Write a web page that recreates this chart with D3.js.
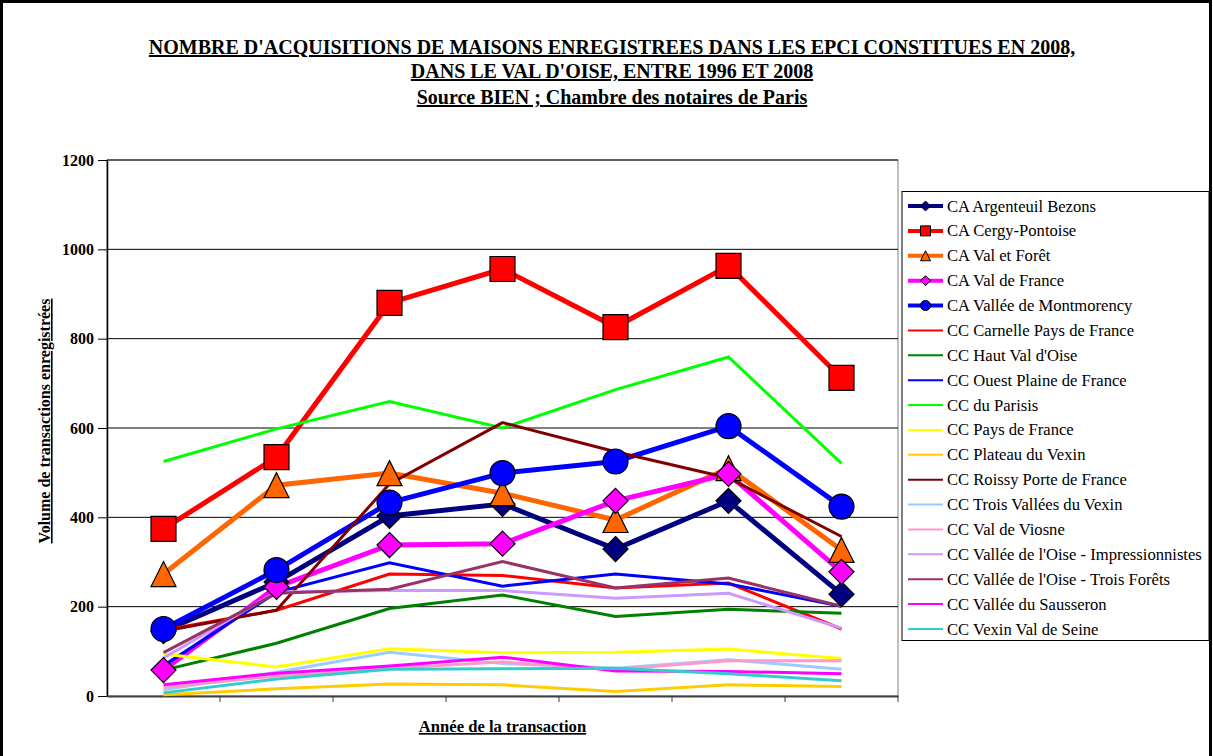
<!DOCTYPE html>
<html>
<head>
<meta charset="utf-8">
<script src="https://cdn.jsdelivr.net/npm/d3@7"></script>
<style>
  body { margin: 0; background: #fff; }
  svg { display: block; }
  text { font-family: "Liberation Serif", "Times New Roman", serif; fill: #000; }
</style>
</head>
<body>
<svg id="chart" width="1213" height="756"></svg>
<script>
// Years of the transactions (not labelled on the axis)
const years = ["1996", "1998", "2000", "2002", "2004", "2006", "2008"];
const yTicks = [0, 200, 400, 600, 800, 1000, 1200];

const titleLines = [
  "NOMBRE D'ACQUISITIONS DE MAISONS ENREGISTREES DANS LES EPCI CONSTITUES EN 2008,",
  "DANS LE VAL D'OISE, ENTRE 1996 ET 2008",
  "Source BIEN ; Chambre des notaires de Paris"
];
const yAxisTitle = "Volume de transactions enregistrées";
const xAxisTitle = "Année de la transaction";

const seriesNames = [
  "CA Argenteuil Bezons", "CA Cergy-Pontoise", "CA Val et Forêt", "CA Val de France",
  "CA Vallée de Montmorency", "CC Carnelle Pays de France", "CC Haut Val d'Oise",
  "CC Ouest Plaine de France", "CC du Parisis", "CC Pays de France", "CC Plateau du Vexin",
  "CC Roissy Porte de France", "CC Trois Vallées du Vexin", "CC Val de Viosne",
  "CC Vallée de l'Oise - Impressionnistes", "CC Vallée de l'Oise - Trois Forêts",
  "CC Vallée du Sausseron", "CC Vexin Val de Seine"
];

// Number of registered house acquisitions per EPCI
const argenteuilBezons   = [145, 255, 403, 430, 329, 437, 228];
const cergyPontoise      = [374, 535, 880, 956, 826, 963, 712];
const valEtForet         = [273, 472, 499, 454, 394, 510, 327];
const valDeFrance        = [58, 244, 338, 341, 437, 497, 278];
const valleeMontmorency  = [150, 282, 433, 499, 525, 604, 424];
const carnellePaysFrance = [148, 192, 273, 270, 242, 253, 150];
const hautValOise        = [58, 118, 196, 226, 178, 194, 185];
const ouestPlaineFrance  = [68, 232, 298, 246, 273, 251, 201];
const duParisis          = [525, 598, 659, 600, 686, 759, 521];
const paysDeFrance       = [94, 65, 106, 97, 98, 105, 84];
const plateauVexin       = [3, 16, 27, 25, 10, 25, 21];
const roissyPorteFrance  = [145, 192, 475, 612, 547, 488, 357];
const troisValleesVexin  = [14, 53, 98, 73, 62, 81, 60];
const valDeViosne        = [19, 45, 62, 76, 60, 79, 79];
const oiseImpression     = [85, 233, 236, 236, 219, 230, 152];
const oiseTroisForets    = [97, 230, 239, 301, 242, 264, 201];
const valleeSausseron    = [25, 51, 67, 87, 56, 55, 50];
const vexinValSeine      = [7, 38, 60, 61, 62, 50, 34];

const seriesValues = [
  argenteuilBezons, cergyPontoise, valEtForet, valDeFrance, valleeMontmorency,
  carnellePaysFrance, hautValOise, ouestPlaineFrance, duParisis, paysDeFrance,
  plateauVexin, roissyPorteFrance, troisValleesVexin, valDeViosne, oiseImpression,
  oiseTroisForets, valleeSausseron, vexinValSeine
];

// Styling per series
const colors = [
  "#000080", "#FF0000", "#FF6600", "#FF00FF", "#0000FF",
  "#FF0000", "#008000", "#0000FF", "#00FF00", "#FFFF00",
  "#FFCC00", "#800000", "#99CCFF", "#FF99CC", "#CC99FF",
  "#993366", "#FF00FF", "#33CCCC"
];
const markers = ["diamond", "square", "triangle", "diamond", "circle"];

const series = seriesNames.map((name, i) => ({
  name,
  values: seriesValues[i],
  color: colors[i],
  marker: markers[i] || null,
  width: i < 5 ? 5 : 3
}));

const svg = d3.select("#chart");

// Outer frame
svg.append("rect").attr("x", 1.5).attr("y", 1.5).attr("width", 1209).attr("height", 780)
  .attr("fill", "#fff").attr("stroke", "#000").attr("stroke-width", 3);

const plot = { left: 107, right: 898, top: 160, bottom: 696 };

const x = d3.scaleBand().domain(years).range([plot.left, plot.right]).paddingInner(0).paddingOuter(0);
const y = d3.scaleLinear().domain([0, 1200]).range([plot.bottom, plot.top]);

// Plot area border
svg.append("rect")
  .attr("x", plot.left).attr("y", plot.top)
  .attr("width", plot.right - plot.left).attr("height", plot.bottom - plot.top)
  .attr("fill", "none").attr("stroke", "#808080").attr("stroke-width", 1);

// Horizontal gridlines
svg.append("g").selectAll("line").data(yTicks.filter(t => t > 0)).join("line")
  .attr("x1", plot.left).attr("x2", plot.right)
  .attr("y1", d => y(d)).attr("y2", d => y(d))
  .attr("stroke", "#000").attr("stroke-width", 1);

// Y axis
const yAxis = svg.append("g").attr("transform", `translate(${plot.left},0)`)
  .call(d3.axisLeft(y).tickValues(yTicks).tickFormat(d3.format("d"))
    .tickSize(9).tickPadding(4).tickSizeOuter(0));
yAxis.select(".domain").attr("stroke", "#000").attr("stroke-width", 1.5);
yAxis.selectAll(".tick line").attr("stroke", "#000");
yAxis.selectAll("text").attr("font-size", 16).attr("font-weight", "bold")
  .attr("font-family", "Liberation Serif, serif").attr("fill", "#000");

// X axis: ticks at category boundaries, no labels
const xAxis = svg.append("g").attr("transform", `translate(0,${plot.bottom})`)
  .call(d3.axisBottom(x).tickSize(0).tickFormat(() => "").tickSizeOuter(0));
xAxis.select(".domain").attr("stroke", "#404040").attr("stroke-width", 2);
svg.append("g").selectAll("line").data(years).join("line")
  .attr("x1", d => x(d) + x.bandwidth()).attr("x2", d => x(d) + x.bandwidth())
  .attr("y1", plot.bottom).attr("y2", plot.bottom + 6)
  .attr("stroke", "#404040").attr("stroke-width", 1);

// Lines
const line = d3.line()
  .x((d, i) => x(years[i]) + x.bandwidth() / 2)
  .y(d => y(d));

svg.append("g").selectAll("path").data(series).join("path")
  .attr("d", s => line(s.values))
  .attr("fill", "none")
  .attr("stroke", s => s.color)
  .attr("stroke-width", s => s.width)
  .attr("stroke-linejoin", "miter");

// Marker shapes
function markerPath(type, size) {
  const h = size / 2;
  if (type === "diamond") return `M0,${-h}L${h},0L0,${h}L${-h},0Z`;
  if (type === "square") return `M${-h},${-h}H${h}V${h}H${-h}Z`;
  if (type === "triangle") return `M0,${-h}L${h},${h}L${-h},${h}Z`;
  if (type === "circle") return d3.symbol(d3.symbolCircle, Math.PI * h * h)();
  return "";
}

const markerLayer = svg.append("g");
series.filter(s => s.marker).forEach(s => {
  markerLayer.append("g").selectAll("path").data(s.values).join("path")
    .attr("transform", (d, i) => `translate(${x(years[i]) + x.bandwidth() / 2},${y(d)})`)
    .attr("d", markerPath(s.marker, 25))
    .attr("fill", s.color)
    .attr("stroke", "#000")
    .attr("stroke-width", 1.2);
});

// Titles
const title = svg.append("g");
[48, 72, 98].forEach((yy, i) => {
  title.append("text")
    .attr("x", 612).attr("y", yy + 6)
    .attr("text-anchor", "middle")
    .attr("font-size", 20).attr("font-weight", "bold")
    .attr("text-decoration", "underline")
    .text(titleLines[i]);
});

svg.append("text")
  .attr("transform", "translate(50,421) rotate(-90)")
  .attr("text-anchor", "middle")
  .attr("font-size", 16).attr("font-weight", "bold")
  .attr("text-decoration", "underline")
  .text(yAxisTitle);

svg.append("text")
  .attr("x", 502.5).attr("y", 732)
  .attr("text-anchor", "middle")
  .attr("font-size", 16.6).attr("font-weight", "bold")
  .attr("text-decoration", "underline")
  .text(xAxisTitle);

// Legend
const legend = svg.append("g");
legend.append("rect")
  .attr("x", 902).attr("y", 191.5).attr("width", 307).attr("height", 449)
  .attr("fill", "#fff").attr("stroke", "#000").attr("stroke-width", 1);

const legendRow = d3.scaleLinear().domain([0, series.length - 1]).range([206, 629]);
series.forEach((s, i) => {
  const ly = legendRow(i);
  const g = legend.append("g").attr("transform", `translate(0,${ly})`);
  g.append("line").attr("x1", 908).attr("x2", 943).attr("y1", 0).attr("y2", 0)
    .attr("stroke", s.color).attr("stroke-width", s.width - 1);
  if (s.marker) {
    g.append("path").attr("transform", "translate(925.5,0)")
      .attr("d", markerPath(s.marker, 10))
      .attr("fill", s.color).attr("stroke", "#000").attr("stroke-width", 1);
  }
  g.append("text").attr("x", 947).attr("y", 5.5)
    .attr("font-size", 16.6)
    .text(s.name);
});
</script>
</body>
</html>
